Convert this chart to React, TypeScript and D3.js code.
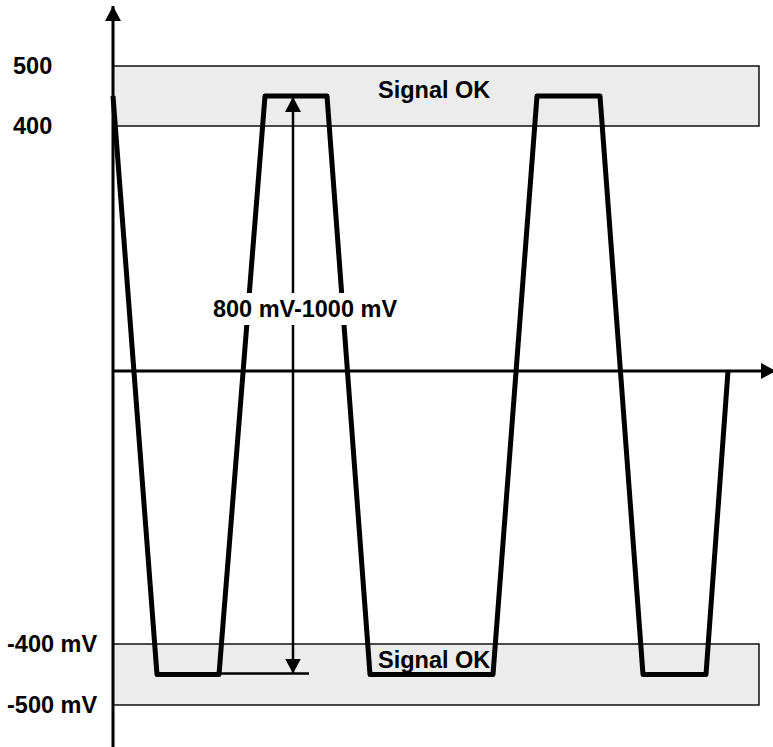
import React, { useEffect, useRef } from 'react';
import * as d3 from 'd3';

// waveform: time (arbitrary units) and level (mV)
const waveTime = [0, 44, 106, 152, 214, 257, 380, 424, 487, 530, 593, 615];
const waveLevel = [450, -450, -450, 450, 450, -450, -450, 450, 450, -450, -450, 0];

// tolerance bands (mV)
const bandLow = [400, -500];
const bandHigh = [500, -400];
const bandText = ['Signal OK', 'Signal OK'];

// tick labels at the left
const tickValues = [500, 400, -400, -500];
const tickLabels = ['500', '400', '-400 mV', '-500 mV'];

const spanText = '800 mV-1000 mV';
const spanTime = 180;

const W = 773;
const H = 747;

const App: React.FC = () => {
  const svgRef = useRef<SVGSVGElement>(null);

  useEffect(() => {
    if (!svgRef.current) return;
    const svg = d3.select(svgRef.current);
    svg.selectAll('*').remove();

    const x = d3.scaleLinear().domain([0, 660]).range([113, 773]);
    // drawing is not evenly scaled above and below zero
    const y = d3.scaleLinear()
      .domain([-500, -400, 0, 400, 500])
      .range([705, 644, 371, 126, 66]);

    const font = 'Arial, "Liberation Sans", sans-serif';
    const fs = 23.5;

    const defs = svg.append('defs');
    const mk = (id: string, w: number, h: number) => {
      defs.append('marker')
        .attr('id', id)
        .attr('viewBox', `0 0 ${w} ${h}`)
        .attr('refX', w).attr('refY', h / 2)
        .attr('markerWidth', w).attr('markerHeight', h)
        .attr('markerUnits', 'userSpaceOnUse')
        .attr('orient', 'auto-start-reverse')
        .append('path')
        .attr('d', `M0,0L${w},${h / 2}L0,${h}Z`)
        .attr('fill', '#000');
    };
    mk('axisHead', 15, 16);
    mk('spanHead', 15, 16);

    // bands
    const bands = svg.append('g');
    bandLow.forEach((lo, i) => {
      bands.append('rect')
        .attr('x', x(0))
        .attr('y', y(bandHigh[i]))
        .attr('width', 759 - x(0))
        .attr('height', y(lo) - y(bandHigh[i]))
        .attr('fill', '#ececec')
        .attr('stroke', '#000')
        .attr('stroke-width', 1.4);
    });

    // axes
    svg.append('line')
      .attr('x1', x(0)).attr('x2', x(0))
      .attr('y1', H).attr('y2', 6)
      .attr('stroke', '#000').attr('stroke-width', 3)
      .attr('marker-end', 'url(#axisHead)');
    svg.append('line')
      .attr('x1', x(0)).attr('x2', 776)
      .attr('y1', y(0)).attr('y2', y(0))
      .attr('stroke', '#000').attr('stroke-width', 3)
      .attr('marker-end', 'url(#axisHead)');

    // band labels
    bandText.forEach((t, i) => {
      svg.append('text')
        .attr('x', 378)
        .attr('y', i === 0 ? 98 : 668)
        .attr('font-family', font)
        .attr('font-weight', 700)
        .attr('font-size', fs)
        .text(t);
    });

    // waveform
    const pts = waveTime.map((t, i) => [t, waveLevel[i]] as [number, number]);
    svg.append('path')
      .datum(pts)
      .attr('fill', 'none')
      .attr('stroke', '#000')
      .attr('stroke-width', 5)
      .attr('stroke-linejoin', 'round')
      .attr('d', d3.line<[number, number]>().x(d => x(d[0])).y(d => y(d[1])));

    // amplitude span annotation
    svg.append('line')
      .attr('x1', x(106)).attr('x2', x(196))
      .attr('y1', y(-450) - 1).attr('y2', y(-450) - 1)
      .attr('stroke', '#000').attr('stroke-width', 2.5);
    svg.append('line')
      .attr('x1', x(spanTime)).attr('x2', x(spanTime))
      .attr('y1', y(450) + 1).attr('y2', y(-450) - 1)
      .attr('stroke', '#000').attr('stroke-width', 2.5)
      .attr('marker-start', 'url(#spanHead)')
      .attr('marker-end', 'url(#spanHead)');
    svg.append('rect')
      .attr('x', 203).attr('y', 293)
      .attr('width', 204).attr('height', 32)
      .attr('fill', '#fff');
    svg.append('text')
      .attr('x', 305).attr('y', 317)
      .attr('text-anchor', 'middle')
      .attr('font-family', font)
      .attr('font-weight', 700)
      .attr('font-size', fs)
      .text(spanText);

    // left labels
    tickValues.forEach((v, i) => {
      svg.append('text')
        .attr('x', v > 0 ? 13 : 7)
        .attr('y', y(v) + 7.5)
        .attr('font-family', font)
        .attr('font-weight', 700)
        .attr('font-size', fs)
        .text(tickLabels[i]);
    });
  }, []);

  return (
    <svg
      ref={svgRef}
      width={W}
      height={H}
      viewBox={`0 0 ${W} ${H}`}
      style={{ position: 'absolute', left: 0, top: 0, background: '#fff' }}
    />
  );
};

export default App;
